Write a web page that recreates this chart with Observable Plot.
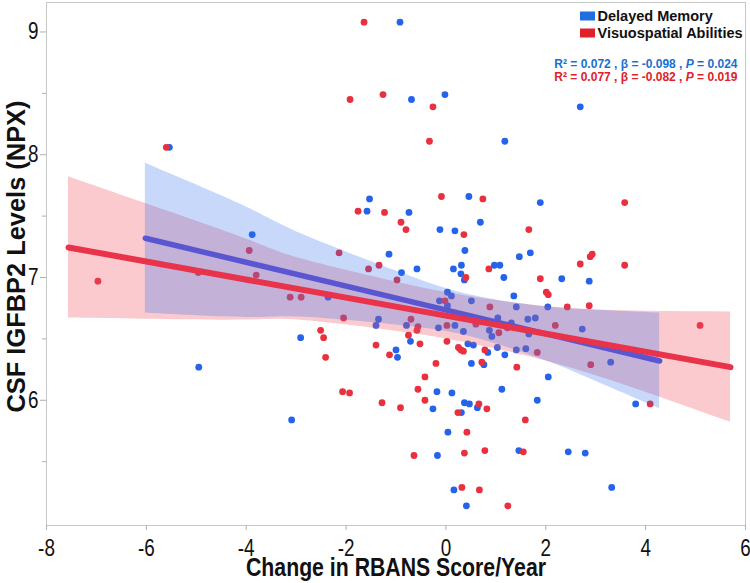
<!DOCTYPE html>
<html><head><meta charset="utf-8">
<script src="https://cdn.jsdelivr.net/npm/d3@7"></script>
<script src="https://cdn.jsdelivr.net/npm/@observablehq/plot@0.6"></script>
<style>body{margin:0;background:#fff}#chart{width:750px;height:583px}</style>
</head><body><div id="chart"></div>
<script>
// Delayed Memory (blue)
const memX = [-5.54,-3.88,-2.91,-4.95,-3.09,-0.92,-0.69,-0.02,1.18,-1.53,-1.58,-0.74,0.46,1.89,-0.12,0.18,0.69,0.38,1.47,1.69,-1.14,-0.89,-0.58,0.15,0.31,0.30,0.37,0.97,1.08,1.16,1.36,0.03,0.11,0.51,2.69,2.32,2.87,2.04,2.73,3.30,2.05,3.80,2.45,2.79,3.32,-2.36,-0.13,0.03,1.41,-1.35,-1.40,-0.79,-0.15,0.18,0.35,1.04,0.87,0.92,1.31,1.64,1.79,1.66,1.60,1.41,1.18,1.03,1.12,1.83,1.46,0.41,0.16,-0.17,0.04,0.31,0.37,0.47,0.63,-0.26,-0.18,0.12,-1.00,-0.97,-0.71,0.44,0.55,0.84,0.76,0.51];
const memY = [8.06,7.35,6.51,6.27,5.84,9.08,8.45,8.49,8.11,7.64,7.54,7.53,7.66,7.61,7.39,7.38,7.45,7.22,7.17,7.20,7.19,7.04,7.07,7.07,7.10,7.03,6.98,7.10,7.10,7.00,6.85,6.88,6.85,6.81,8.39,6.99,6.97,6.76,6.58,6.31,6.19,5.97,5.58,5.57,5.29,6.84,6.81,6.77,6.76,6.66,6.61,6.61,6.59,6.61,6.56,6.67,6.57,6.52,6.63,6.66,6.67,6.54,6.42,6.41,6.37,6.43,6.09,6.00,5.59,5.14,5.27,5.55,5.74,5.90,5.98,5.97,5.94,5.93,6.07,6.06,6.41,6.35,6.48,6.46,6.45,6.39,6.29,6.30];
// Visuospatial Abilities (red)
const visX = [-5.60,-3.94,-4.96,-3.80,-6.97,-3.12,-2.90,-1.64,-1.92,-1.26,-0.26,-0.33,-1.76,-1.23,-0.90,-0.80,-0.09,0.74,0.36,1.66,-2.14,-1.34,-1.55,-0.98,0.40,0.86,1.89,2.01,2.05,3.58,2.89,2.93,2.69,3.58,2.43,2.87,2.19,5.09,2.90,4.09,-0.02,0.88,-2.05,-0.70,0.02,0.60,1.06,1.23,1.83,1.42,1.59,1.55,1.24,0.32,0.67,-0.64,0.37,0.78,0.42,0.24,0.66,0.82,-0.42,-0.56,-0.42,-0.20,-0.91,-1.28,-2.07,-1.93,-2.51,-2.45,-2.41,-1.40,-1.13,-0.75,-0.58,-0.56,-0.52,0.02,0.25,0.30,0.35,0.78,0.72];
const visY = [8.06,7.22,7.04,7.02,6.97,6.84,6.84,9.08,8.45,8.49,8.39,8.11,7.54,7.53,7.45,7.39,7.66,7.64,7.35,7.39,7.20,7.10,7.07,6.98,7.00,7.07,6.99,6.88,6.86,7.61,7.17,7.19,7.11,7.10,6.76,6.77,6.61,6.61,6.29,5.97,6.81,6.76,6.67,6.66,6.61,6.62,6.55,6.59,6.39,6.27,5.84,5.58,5.14,5.29,5.27,5.55,5.57,5.59,5.74,5.90,5.97,5.93,6.00,6.09,6.19,6.30,5.94,5.98,6.07,6.06,6.57,6.51,6.35,6.45,6.37,6.53,6.57,6.60,6.46,6.48,6.43,6.41,6.40,6.41,6.31];

// fitted lines
const memFitX = [-6.02, 4.28];
const memFitY = [7.32, 6.32];
const visFitX = [-7.56, 5.70];
const visFitY = [7.245, 6.27];
// confidence bands
const memBandX  = [-6.02, -4, -2.91, -1, 0.5, 2, 3, 4.28];
const memBandLo = [6.71, 6.674, 6.678, 6.613, 6.517, 6.321, 6.154, 5.93];
const memBandHi = [7.93, 7.574, 7.358, 7.053, 6.857, 6.761, 6.734, 6.71];
const visBandX  = [-7.56, -6, -4, -2.9, -1, 0.3, 2.1, 4, 5.7];
const visBandLo = [6.67, 6.66, 6.653, 6.652, 6.563, 6.477, 6.31, 6.065, 5.82];
const visBandHi = [7.82, 7.60, 7.313, 7.152, 6.963, 6.857, 6.76, 6.725, 6.72];

const xTicks = [-8, -6, -4, -2, 0, 2, 4, 6];
const yTicks = [6, 7, 8, 9];
const yMinor = [5.5, 6.5, 7.5, 8.5];
const legendNames = ["Delayed Memory", "Visuospatial Abilities"];
const legendColors = ["#1f6fe0", "#e0202a"];
const statsText = ["R² = 0.072 , β = -0.098 , P = 0.024", "R² = 0.077 , β = -0.082 , P = 0.019"];
const statsColors = ["#1a6fd2", "#e0202a"];
const xTitle = "Change in RBANS Score/Year";
const yTitle = "CSF IGFBP2 Levels (NPX)";

const zip = (xs, ys) => xs.map((x, i) => ({x, y: ys[i]}));
const band = (xs, lo, hi) => xs.map((x, i) => ({x, lo: lo[i], hi: hi[i]}));
const mem = zip(memX, memY), vis = zip(visX, visY);
const memFit = zip(memFitX, memFitY), visFit = zip(visFitX, visFitY);
const memBand = band(memBandX, memBandLo, memBandHi), visBand = band(visBandX, visBandLo, visBandHi);

const font = "'Liberation Sans', Arial, sans-serif";
const barSymbol = {draw(ctx) { ctx.rect(-7.5, -4.5, 15, 9); }};

const chart = Plot.plot({
  width: 750, height: 583,
  marginLeft: 46, marginRight: 5, marginTop: 2, marginBottom: 58,
  style: {fontFamily: font, background: "#fff", color: "#111"},
  x: {domain: [-8, 6]},
  y: {domain: [4.98, 9.24]},
  marks: [
    Plot.frame({stroke: "#c8c8c8"}),
    Plot.dot(mem, {x: "x", y: "y", r: 3.4, fill: "#2563eb"}),
    Plot.dot(vis, {x: "x", y: "y", r: 3.4, fill: "#e8303f"}),
    Plot.areaY(visBand, {x: "x", y1: "lo", y2: "hi", fill: "#f05060", fillOpacity: 0.3, curve: "natural"}),
    Plot.areaY(memBand, {x: "x", y1: "lo", y2: "hi", fill: "#3070f0", fillOpacity: 0.27, curve: "natural"}),
    Plot.line(memFit, {x: "x", y: "y", stroke: "#5a56d2", strokeWidth: 5.5}),
    Plot.line(visFit, {x: "x", y: "y", stroke: "#e8334a", strokeWidth: 6}),
    Plot.axisX(xTicks, {tickSize: 5, tickPadding: 9, fontSize: 23, stroke: "#b0b0b0", fill: "#111", tickFormat: d => String(d), label: null}),
    Plot.axisY(yTicks, {tickSize: 6, tickPadding: 2, fontSize: 23, stroke: "#b0b0b0", fill: "#111", tickFormat: d => String(d), label: null}),
    Plot.axisY(yMinor, {tickSize: 4, text: null, stroke: "#b0b0b0", label: null}),
    Plot.text([xTitle], {frameAnchor: "bottom", dy: 42, lineAnchor: "middle", textAnchor: "middle", fontSize: 26, fontWeight: "bold", fill: "#111"}),
    Plot.text([yTitle], {frameAnchor: "left", dx: -30, dy: -7.5, lineAnchor: "middle", textAnchor: "middle", rotate: -90, fontSize: 26, fontWeight: "bold", fill: "#111"}),
    Plot.dot([legendNames[0]], {x: null, y: null, frameAnchor: "top-right", dx: -158, dy: 13.5, symbol: barSymbol, fill: legendColors[0], stroke: null}),
    Plot.dot([legendNames[1]], {x: null, y: null, frameAnchor: "top-right", dx: -158, dy: 30.5, symbol: barSymbol, fill: legendColors[1], stroke: null}),
    Plot.text([legendNames[0]], {frameAnchor: "top-right", dx: -148, dy: 13.5, lineAnchor: "middle", textAnchor: "start", fontSize: 14.5, fontWeight: "bold", fill: "#111"}),
    Plot.text([legendNames[1]], {frameAnchor: "top-right", dx: -148, dy: 30.5, lineAnchor: "middle", textAnchor: "start", fontSize: 14.5, fontWeight: "bold", fill: "#111"}),
    Plot.text([statsText[0]], {frameAnchor: "top-right", dx: -8, dy: 61.5, lineAnchor: "middle", textAnchor: "end", fontSize: 12, fontWeight: "bold", fill: statsColors[0]}),
    Plot.text([statsText[1]], {frameAnchor: "top-right", dx: -8, dy: 74.5, lineAnchor: "middle", textAnchor: "end", fontSize: 12, fontWeight: "bold", fill: statsColors[1]})
  ]
});
document.getElementById("chart").appendChild(chart);

// condensed lettering (the reference uses a narrow face): compress glyphs horizontally
const squeeze = (el, factor, fixed) => {
  const len = el.getComputedTextLength();
  el.setAttribute("textLength", fixed || (len * factor).toFixed(1));
  el.setAttribute("lengthAdjust", "spacingAndGlyphs");
};
chart.querySelectorAll("g[aria-label$='tick label'] text").forEach(el => squeeze(el, 0.82));
chart.querySelectorAll("text").forEach(el => {
  if (el.textContent === xTitle) squeeze(el, 0, 300);
  if (el.textContent === yTitle) squeeze(el, 0, 312);
});

// italic P in the statistics lines
chart.querySelectorAll("text").forEach(el => {
  const t = el.textContent;
  if (t.includes(", P = ") && !el.querySelector("tspan")) {
    const i = t.lastIndexOf("P");
    el.textContent = "";
    const ns = "http://www.w3.org/2000/svg";
    const a = document.createElementNS(ns, "tspan"); a.textContent = t.slice(0, i);
    const b = document.createElementNS(ns, "tspan"); b.textContent = "P"; b.setAttribute("font-style", "italic");
    const c = document.createElementNS(ns, "tspan"); c.textContent = t.slice(i + 1);
    el.append(a, b, c);
  }
});
</script>
</body></html>
